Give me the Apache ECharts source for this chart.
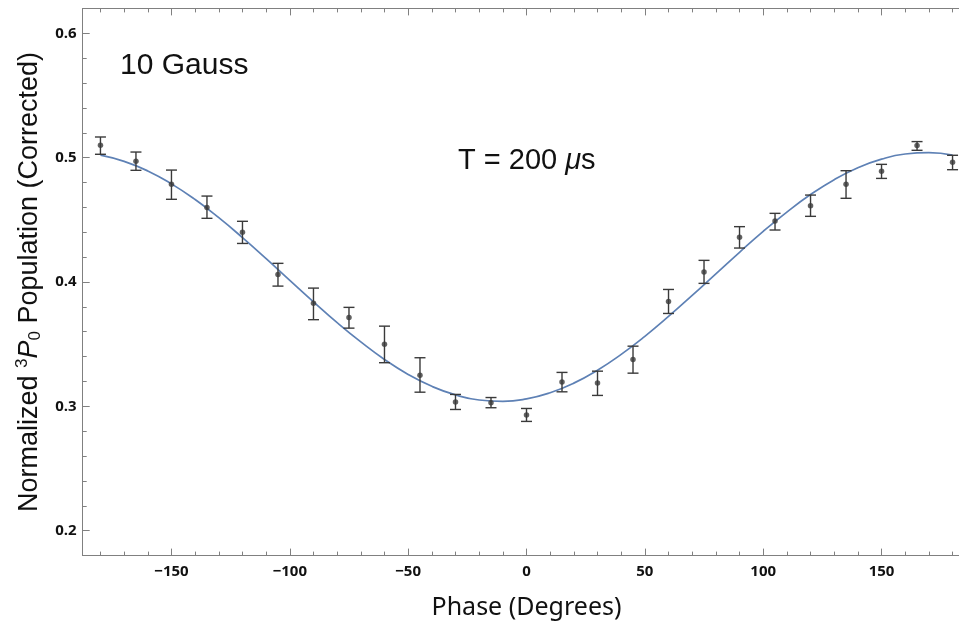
<!DOCTYPE html>
<html>
<head>
<meta charset="utf-8">
<script src="https://cdn.jsdelivr.net/npm/echarts@6/dist/echarts.min.js"></script>
<style>
html,body{margin:0;padding:0;background:#fff;}
#chart{width:959px;height:626px;}
</style>
</head>
<body>
<div id="chart"></div>
<script>
// Measured data points (phase in degrees)
const phase = [-180,-165,-150,-135,-120,-105,-90,-75,-60,-45,-30,-15,0,15,30,45,60,75,90,105,120,135,150,165,180];
const population = [0.510,0.497,0.4785,0.460,0.440,0.406,0.383,0.3715,0.350,0.325,0.3035,0.303,0.293,0.3195,0.3187,0.3377,0.3844,0.408,0.436,0.449,0.4614,0.4785,0.489,0.5097,0.4962];
const errHigh = [0.5166,0.5045,0.490,0.4691,0.4488,0.415,0.3951,0.3796,0.3645,0.3391,0.3096,0.3071,0.2983,0.3273,0.3283,0.3484,0.394,0.4174,0.4445,0.4552,0.4699,0.4895,0.4946,0.5129,0.5019];
const errLow  = [0.5027,0.4898,0.4665,0.4512,0.431,0.3967,0.3697,0.3629,0.3351,0.3114,0.2975,0.2989,0.2879,0.3117,0.3088,0.3267,0.3747,0.3989,0.4273,0.4418,0.4528,0.4673,0.4833,0.5059,0.4903];
// Fit curve
const fitPhase = [-180,-170,-160,-150,-140,-130,-120,-110,-100,-90,-80,-70,-60,-50,-40,-30,-20,-10,0,10,20,30,40,50,60,70,80,90,100,110,120,130,140,150,160,170,180];
const fitValue = [0.502,0.497,0.4893,0.4789,0.4663,0.4517,0.4357,0.4188,0.4014,0.3841,0.3673,0.3518,0.3377,0.3257,0.3161,0.3092,0.3051,0.304,0.306,0.311,0.3187,0.3291,0.3418,0.3563,0.3723,0.3892,0.4066,0.4239,0.4407,0.4562,0.4703,0.4823,0.4919,0.4988,0.5029,0.504,0.502];
const xRange = [-187.5, 187.5];
const yRange = [0.18, 0.62];
const xTitle = 'Phase (Degrees)';
const label1 = '10 Gauss';

const chart = echarts.init(document.getElementById('chart'), null, {renderer:'canvas'});
const frameColor = '#808080';
const tickLabelStyle = {color:'#111', fontFamily:'"Open Sans", "Noto Sans", sans-serif', fontWeight:'bold', fontSize:15};
const axisCommon = {
  axisLine:{show:true, onZero:false, lineStyle:{color:frameColor, width:1}},
  axisTick:{show:true, inside:true, length:7, lineStyle:{color:frameColor, width:1}},
  minorTick:{show:true, splitNumber:5, length:4, lineStyle:{color:frameColor, width:1}},
  splitLine:{show:false}
};
const pts = phase.map((p,i)=>[p, population[i]]);
const errs = phase.map((p,i)=>[p, errLow[i], errHigh[i]]);
const fit = fitPhase.map((p,i)=>[p, fitValue[i]]);

chart.setOption({
  animation:false,
  backgroundColor:'#fff',
  grid:{left:82.7, top:8.4, width:887.6, height:547.2, outerBoundsMode:'none', containLabel:false},
  xAxis:[
    Object.assign({type:'value', position:'bottom', min:xRange[0], max:xRange[1], splitNumber:8,
      axisLabel:{show:true, showMinLabel:false, showMaxLabel:false, margin:9,
        formatter:v=> (v<0?'\u2212'+Math.abs(v):String(v)), ...tickLabelStyle},
      name:xTitle, nameLocation:'middle', nameGap:40,
      nameTextStyle:{fontFamily:'"Noto Sans", sans-serif', fontSize:25, color:'#111'}
    }, axisCommon),
    Object.assign({type:'value', position:'top', min:xRange[0], max:xRange[1], splitNumber:8,
      axisLabel:{show:false}}, axisCommon)
  ],
  yAxis:[
    Object.assign({type:'value', position:'left', min:yRange[0], max:yRange[1], splitNumber:5,
      axisLabel:{show:true, showMinLabel:false, showMaxLabel:false, margin:6,
        formatter:v=>v.toFixed(1), ...tickLabelStyle},
      name:'{n|Normalized }{sup|3}{it|P}{sub|0}{n| Population (Corrected)}',
      nameLocation:'middle', nameGap:38, nameRotate:90,
      nameTextStyle:{fontFamily:'"Liberation Sans", Arial, sans-serif', fontSize:27, color:'#111',
        rich:{
          n:{fontFamily:'"Liberation Sans", Arial, sans-serif', fontSize:27, color:'#111'},
          it:{fontFamily:'"Liberation Sans", Arial, sans-serif', fontSize:27, fontStyle:'italic', color:'#111'},
          sup:{fontFamily:'"Liberation Sans", Arial, sans-serif', fontSize:17, color:'#111', padding:[0,0,14,0]},
          sub:{fontFamily:'"Liberation Sans", Arial, sans-serif', fontSize:17, color:'#111', padding:[12,0,0,0]}
        }}
    }, axisCommon),
    Object.assign({type:'value', position:'right', min:yRange[0], max:yRange[1], splitNumber:5,
      axisLabel:{show:false}}, axisCommon)
  ],
  series:[
    {
      type:'line', data:fit, smooth:true, showSymbol:false, symbol:'none',
      lineStyle:{color:'#5E81B5', width:1.7}, z:2, silent:true
    },
    {
      type:'custom', data:errs, z:3, silent:true,
      renderItem:(params, api)=>{
        const x = api.value(0);
        const lo = api.coord([x, api.value(1)]);
        const hi = api.coord([x, api.value(2)]);
        const hw = 5.5;
        const st = {stroke:'#3a3a3a', lineWidth:1.4};
        return {type:'group', children:[
          {type:'line', shape:{x1:lo[0], y1:lo[1], x2:hi[0], y2:hi[1]}, style:st},
          {type:'line', shape:{x1:lo[0]-hw, y1:lo[1], x2:lo[0]+hw, y2:lo[1]}, style:st},
          {type:'line', shape:{x1:hi[0]-hw, y1:hi[1], x2:hi[0]+hw, y2:hi[1]}, style:st}
        ]};
      }
    },
    {
      type:'scatter', data:pts, symbol:'circle', symbolSize:5.5,
      itemStyle:{color:'#3a3a3a'}, z:4, silent:true
    }
  ],
  graphic:[
    {type:'text', left:120, top:51, style:{text:label1, fontFamily:'"Liberation Sans", Arial, sans-serif', fontSize:30, fill:'#111'}},
    {type:'text', left:458, top:146, style:{
      text:'{a|T = 200 }{b|\u03bc}{a|s}',
      rich:{
        a:{fontFamily:'"Liberation Sans", Arial, sans-serif', fontSize:29, fill:'#111', color:'#111'},
        b:{fontFamily:'"Liberation Sans", Arial, sans-serif', fontSize:29, fontStyle:'italic', fill:'#111', color:'#111'}
      }}}
  ]
});
</script>
</body>
</html>
